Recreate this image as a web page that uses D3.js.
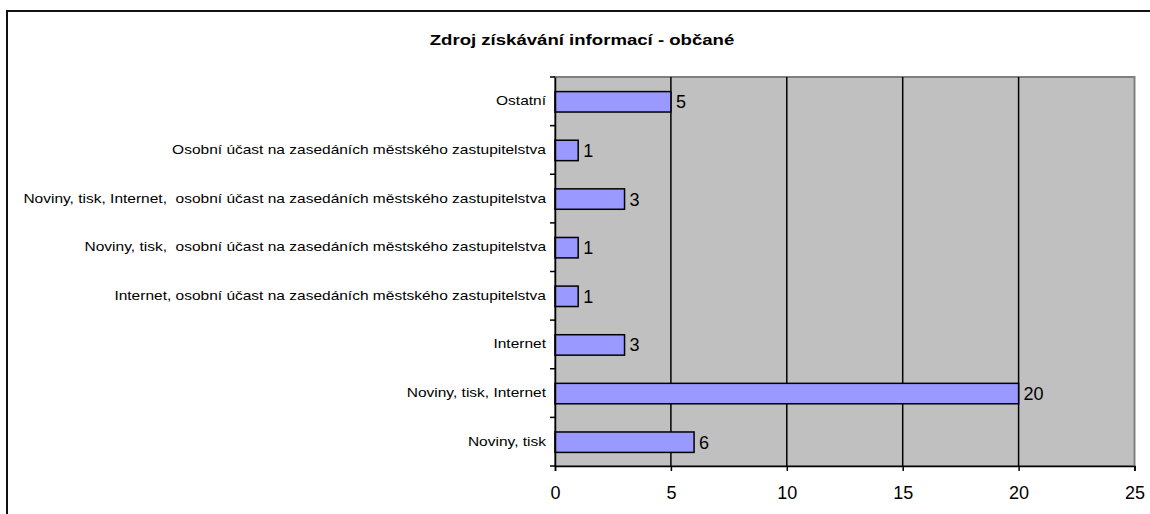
<!DOCTYPE html>
<html><head><meta charset="utf-8">
<script src="https://cdn.jsdelivr.net/npm/d3@7"></script>
<style>body{margin:0;background:#fff}svg{display:block}</style>
</head><body>
<svg id="c" width="1150" height="514"></svg>
<script>
const title = "Zdroj získávání informací - občané";
const categories = [
  "Ostatní",
  "Osobní účast na zasedáních městského zastupitelstva",
  "Noviny, tisk, Internet,  osobní účast na zasedáních městského zastupitelstva",
  "Noviny, tisk,  osobní účast na zasedáních městského zastupitelstva",
  "Internet, osobní účast na zasedáních městského zastupitelstva",
  "Internet",
  "Noviny, tisk, Internet",
  "Noviny, tisk"
];
const values = [5, 1, 3, 1, 1, 3, 20, 6];
const xTicks = [0, 5, 10, 15, 20, 25];

const svg = d3.select("#c");
const font = "Liberation Sans, Arial, sans-serif";
const L = 555, R = 1134.5, T = 77, B = 466;

// outer border
svg.append("rect").attr("x", 7).attr("y", 11).attr("width", 1150).attr("height", 520)
  .attr("fill", "none").attr("stroke", "#111").attr("stroke-width", 2);

svg.append("text").attr("transform", "translate(582,45) scale(1.24,1)").attr("text-anchor", "middle")
  .attr("font-family", font).attr("font-weight", "bold").attr("font-size", 15).text(title);

const x = d3.scaleLinear().domain([0, 25]).range([L, R]);
const y = d3.scaleBand().domain(categories).range([T, B]);

svg.append("rect").attr("x", L).attr("y", T).attr("width", R - L).attr("height", B - T)
  .attr("fill", "#C0C0C0").attr("stroke", "#808080").attr("stroke-width", 2);

// gridlines
svg.append("g").selectAll("line").data(xTicks.filter(d => d > 0 && d < 25)).join("line")
  .attr("x1", d => x(d)).attr("x2", d => x(d)).attr("y1", T).attr("y2", B)
  .attr("stroke", "#000").attr("stroke-width", 1.5);

// bars
const bh = y.bandwidth() * 0.42;
svg.append("g").selectAll("rect").data(categories).join("rect")
  .attr("x", x(0)).attr("y", (d) => y(d) + (y.bandwidth() - bh) / 2 + 0.5)
  .attr("width", (d, i) => x(values[i]) - x(0)).attr("height", bh)
  .attr("fill", "#9999FF").attr("stroke", "#000").attr("stroke-width", 1.5);

// value labels
svg.append("g").selectAll("text").data(categories).join("text")
  .attr("x", (d, i) => x(values[i]) + 5).attr("y", d => y(d) + y.bandwidth() / 2 + 7)
  .attr("font-family", font).attr("font-size", 18).attr("fill", "#000")
  .text((d, i) => values[i]);

// x axis
const xa = svg.append("g").attr("transform", `translate(0,${B})`)
  .call(d3.axisBottom(x).tickValues(xTicks).tickSize(5).tickPadding(15).tickFormat(d3.format("d")));
xa.select(".domain").attr("stroke", "#000").attr("stroke-width", 1.5);
xa.selectAll(".tick line").attr("stroke", "#000").attr("stroke-width", 1.5);
xa.selectAll("text").attr("font-family", font).attr("font-size", 18).attr("fill", "#000");

// y axis
const ya = svg.append("g").attr("transform", `translate(${L},0)`)
  .call(d3.axisLeft(y).tickSize(0).tickPadding(0));
ya.select(".domain").attr("stroke", "#000").attr("stroke-width", 1.5);
ya.selectAll("text").attr("x", null).attr("font-family", font).attr("font-size", 12.5).attr("fill", "#000")
  .attr("transform", "translate(-9,0) scale(1.24,1)")
  .style("white-space", "pre");
// band boundary ticks
const bounds = categories.map(c => y(c)).concat([B]);
svg.append("g").selectAll("line").data(bounds).join("line")
  .attr("x1", L - 5).attr("x2", L).attr("y1", d => d).attr("y2", d => d)
  .attr("stroke", "#000").attr("stroke-width", 1.5);
</script>
</body></html>
